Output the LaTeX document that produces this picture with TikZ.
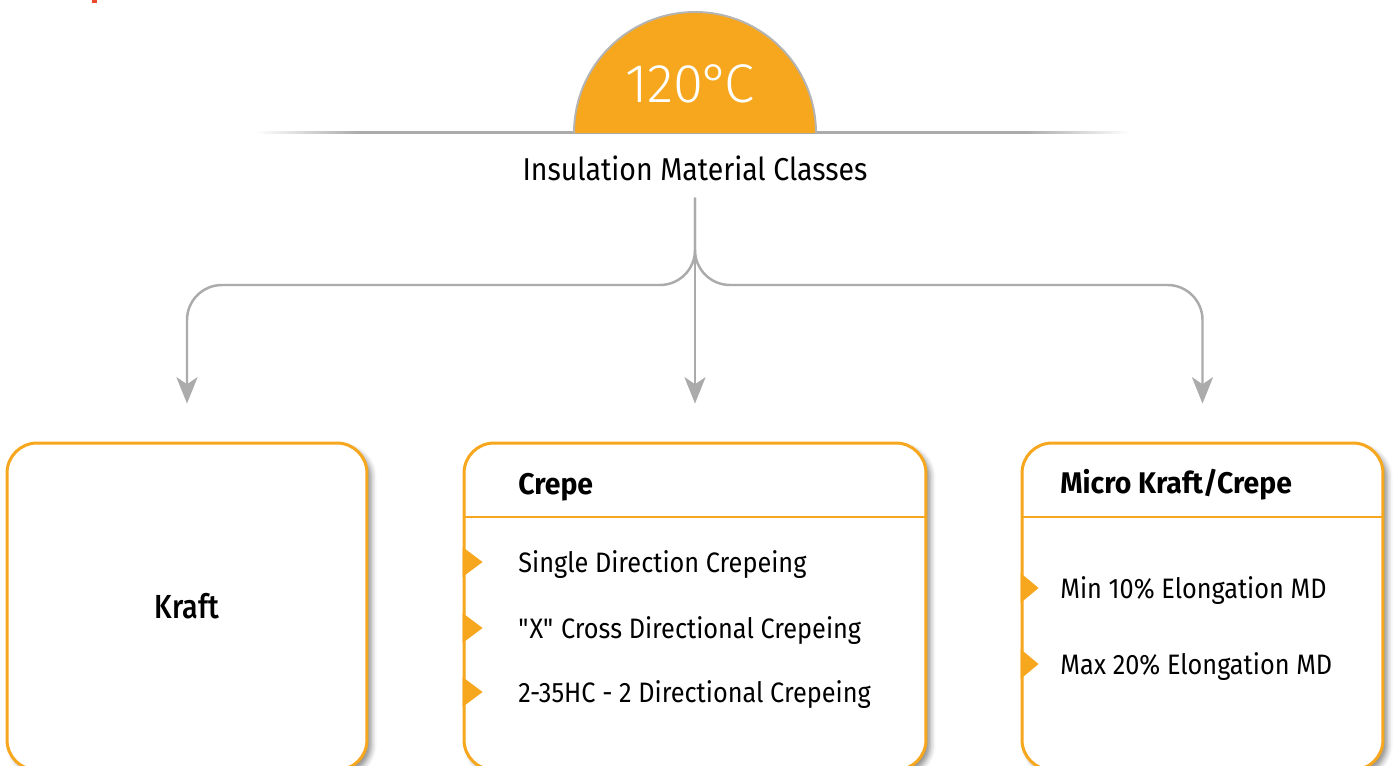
\documentclass[tikz,border=0pt]{standalone}
\usepackage{fontspec}
\setmainfont{Fira Sans}[FakeStretch=0.9]
\newfontfamily\lightfont{Fira Sans Light}
\newfontfamily\mediumfont{Fira Sans Medium}[FakeStretch=0.86]
\newfontfamily\headfont{Fira Sans}[FakeStretch=0.95]
\usetikzlibrary{arrows.meta,shadows.blur}

\definecolor{amber}{HTML}{F6A71E}
\definecolor{linegray}{HTML}{ABABAB}
\definecolor{rimgray}{HTML}{B4B4B4}
\definecolor{markred}{HTML}{EA4B2B}

% grey rule that fades out at both ends
\pgfdeclarehorizontalshading{baserule}{100bp}{color(0bp)=(white); color(25bp)=(white);
  color(31bp)=(linegray); color(69bp)=(linegray); color(75bp)=(white); color(100bp)=(white)}

\tikzset{
  conn/.style={draw=linegray,line width=1.4pt,rounded corners=0.7cm,
    -{Stealth[length=15pt,width=12pt,inset=4pt]},shorten <=0.32cm,shorten >=0.76cm},
  classbox/.style={draw=amber,line width=1.7pt,fill=white,rounded corners=0.6cm,
    blur shadow={shadow xshift=2.5pt,shadow yshift=-2.5pt,shadow blur radius=3pt,shadow opacity=45}},
  bullet/.style={fill=amber},
  headtext/.style={anchor=base west,inner sep=0pt,font=\headfont\bfseries\fontsize{17}{20}\selectfont},
  itemtext/.style={anchor=base west,inner sep=0pt,font=\fontsize{16}{18}\selectfont},
}

\begin{document}
\begin{tikzpicture}[x=0.02cm,y=0.02cm]
\useasboundingbox (0,0) rectangle (1397,765);

% cut-off mark on the top edge
\fill[markred] (92,762) rectangle (97,765);

% base line under the dome
\shade[shading=baserule] (255,631) rectangle (1130,633);

% the dome
\filldraw[fill=amber,draw=rimgray,line width=1.1pt] (574,632) arc (180:0:121);
\node[anchor=base,white,font=\lightfont\fontsize{31}{31}\selectfont] (temp) at (690,662) {120\kern-1pt°\kern-3pt C};

\node[anchor=base,inner sep=0pt,font=\fontsize{18}{20}\selectfont] (title) at (695,584) {Insulation Material Classes};

% class boxes
\node[classbox,minimum width=7.2cm,minimum height=6.54cm,font=\mediumfont\fontsize{19}{20}\selectfont] (kraft) at (187,158.5) {Kraft};
\node[classbox,minimum width=9.24cm,minimum height=6.54cm] (crepe) at (695,158.5) {};
\node[classbox,minimum width=7.22cm,minimum height=6.54cm] (micro) at (1202.5,158.5) {};

% connectors
\coordinate (fork) at (695,480);
\draw[conn] (title.south) |- (fork -| kraft.north) -- (kraft.north);
\draw[conn] (title.south) -- (crepe.north);
\draw[conn] (title.south) |- (fork -| micro.north) -- (micro.north);

% headers
\draw[amber,line width=1.7pt] (crepe.west |- 0,248) -- (crepe.east |- 0,248);
\draw[amber,line width=1.7pt] (micro.west |- 0,248) -- (micro.east |- 0,248);
\node[headtext] (crepehead) at (518,271) {Crepe};
\node[headtext] (microhead) at (1060,272) {Micro Kraft/Crepe};

% items
\foreach \y/\txt [count=\i] in {203/Single Direction Crepeing,137/\textquotedbl X\textquotedbl{} Cross Directional Crepeing,73/2-35HC - 2 Directional Crepeing}{
  \fill[bullet] (crepe.west |- 0,\y+15) -- ++(20,-15) -- ++(-20,-15) -- cycle;
  \node[itemtext] (crepeitem\i) at (518,\y-10) {\txt};
}
\foreach \y/\txt [count=\i] in {177/Min 10\% Elongation MD,101/Max 20\% Elongation MD}{
  \fill[bullet] (micro.west |- 0,\y+15) -- ++(18,-15) -- ++(-18,-15) -- cycle;
  \node[itemtext] (microitem\i) at (1060,\y-10) {\txt};
}
\end{tikzpicture}
\end{document}
